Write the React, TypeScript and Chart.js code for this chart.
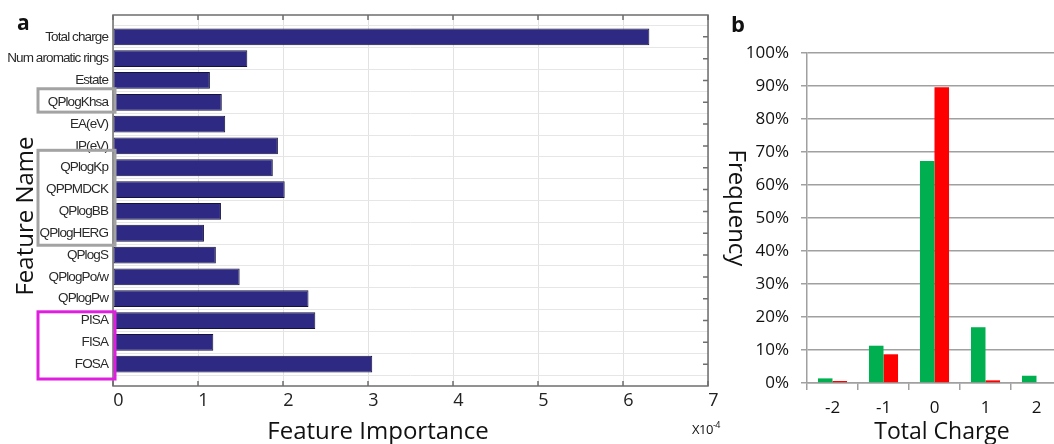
import React, { useEffect, useRef } from "react";
import { Chart, registerables } from "chart.js";

Chart.register(...registerables);

// ---------- data ----------
const FEATURES = [
  "Total charge",
  "Num aromatic rings",
  "Estate",
  "QPlogKhsa",
  "EA(eV)",
  "IP(eV)",
  "QPlogKp",
  "QPPMDCK",
  "QPlogBB",
  "QPlogHERG",
  "QPlogS",
  "QPlogPo/w",
  "QPlogPw",
  "PISA",
  "FISA",
  "FOSA",
];
const IMPORTANCE = [6.31, 1.58, 1.14, 1.28, 1.32, 1.94, 1.88, 2.02, 1.27, 1.07, 1.21, 1.49, 2.3, 2.38, 1.18, 3.05];
const IMPORTANCE_MAX = 7;

const CHARGES = ["-2", "-1", "0", "1", "2"];
const GREEN_FREQ = [1.4, 11.3, 67.3, 16.9, 2.2];
const RED_FREQ = [0.6, 8.7, 89.6, 0.8, 0];

const HIGHLIGHTS = [
  { from: "QPlogKhsa", to: "QPlogKhsa", color: "#a3a3a3", up: 0.62, down: 0.45 },
  { from: "QPlogKp", to: "QPlogHERG", color: "#a3a3a3", up: 0.8, down: 0.55 },
  { from: "PISA", to: "FOSA", color: "#e01ee0", up: 0.4, down: 0.68 },
];

const SANS = '"Open Sans", "Liberation Sans", sans-serif';
const ARIAL = '"Liberation Sans", Arial, sans-serif';

function Text(props: {
  x: number;
  base: number;
  size: number;
  bold?: boolean;
  center?: boolean;
  children: any;
}) {
  const { x, base, size, bold, center, children } = props;
  return (
    <div
      style={{
        position: "absolute",
        left: x,
        top: base - 0.888 * size,
        fontFamily: SANS,
        fontSize: size,
        lineHeight: `${size}px`,
        fontWeight: bold ? 700 : 400,
        whiteSpace: "nowrap",
        color: "#111",
        transform: center ? "translateX(-50%)" : undefined,
      }}
    >
      {children}
    </div>
  );
}

function Rotated(props: { cx: number; cy: number; size: number; deg: number; children: any }) {
  const { cx, cy, size, deg, children } = props;
  return (
    <div
      style={{
        position: "absolute",
        left: cx,
        top: cy,
        fontFamily: SANS,
        fontSize: size,
        lineHeight: `${size}px`,
        whiteSpace: "nowrap",
        color: "#111",
        transform: `translate(-50%, -50%) rotate(${deg}deg)`,
      }}
    >
      {children}
    </div>
  );
}

export default function App() {
  const leftRef = useRef<HTMLCanvasElement | null>(null);
  const rightRef = useRef<HTMLCanvasElement | null>(null);

  useEffect(() => {
    const yLabels = ["", ...FEATURES, ""];
    const xValues = ["", ...IMPORTANCE, ""].map((v) => (v === "" ? null : v));

    const framePlugin = {
      id: "frame",
      beforeDraw(chart: any) {
        // narrow look for the feature labels (like Arial Narrow)
        (chart.ctx as any).letterSpacing = "-0.9px";
      },
      beforeDatasetsDraw(chart: any) {
        (chart.ctx as any).letterSpacing = "0px";
      },
      afterDraw(chart: any) {
        const { ctx, chartArea, scales } = chart;
        const { left, right, top, bottom } = chartArea;
        const x = scales.x;
        const y = scales.y;
        ctx.save();
        ctx.strokeStyle = "#6e6e6e";
        ctx.lineWidth = 1.5;
        ctx.strokeRect(left, top, right - left, bottom - top);
        ctx.beginPath();
        for (let v = 0; v <= IMPORTANCE_MAX; v++) {
          const px = x.getPixelForValue(v);
          ctx.moveTo(px, top);
          ctx.lineTo(px, top + 5);
          ctx.moveTo(px, bottom);
          ctx.lineTo(px, bottom - 5);
        }
        for (let i = 1; i <= FEATURES.length; i++) {
          const py = y.getPixelForValue(i);
          ctx.moveTo(right, py);
          ctx.lineTo(right - 5, py);
        }
        ctx.stroke();

        const sp = y.getPixelForValue(1) - y.getPixelForValue(0);
        ctx.lineWidth = 3;
        HIGHLIGHTS.forEach((h) => {
          const i1 = yLabels.indexOf(h.from);
          const i2 = yLabels.indexOf(h.to);
          const t = y.getPixelForValue(i1) - sp * h.up;
          const b = y.getPixelForValue(i2) + sp * h.down;
          ctx.strokeStyle = h.color;
          ctx.strokeRect(left - 75, t, 77, b - t);
        });
        ctx.restore();
      },
    };

    const left = new Chart(leftRef.current as HTMLCanvasElement, {
      type: "bar",
      data: {
        labels: yLabels,
        datasets: [
          {
            data: xValues as any,
            backgroundColor: "#2e2a84",
            borderColor: "#15123c",
            borderWidth: 1,
            borderSkipped: false,
            barPercentage: 0.77,
            categoryPercentage: 1,
          },
        ],
      },
      options: {
        indexAxis: "y",
        responsive: false,
        animation: false,
        devicePixelRatio: 1,
        layout: { padding: { top: 15, right: 12, left: 0, bottom: 0 } },
        plugins: { legend: { display: false }, tooltip: { enabled: false } },
        scales: {
          x: {
            type: "linear",
            min: 0,
            max: IMPORTANCE_MAX,
            ticks: {
              stepSize: 1,
              padding: 4,
              labelOffset: 5,
              color: "#222",
              font: { family: SANS, size: 18 },
            },
            grid: { color: "#e2e2e2", lineWidth: 1, drawTicks: false },
            border: { display: false },
            afterFit: (s: any) => {
              s.height = 58;
            },
          },
          y: {
            type: "category",
            offset: false,
            ticks: {
              autoSkip: false,
              padding: 5,
              color: "#2a2a2a",
              font: { family: ARIAL, size: 13.5 },
            },
            grid: { color: "#e6e6e6", lineWidth: 1, drawTicks: false },
            border: { display: false },
            afterFit: (s: any) => {
              s.width = 113;
            },
          },
        },
      },
      plugins: [framePlugin],
    });

    const right = new Chart(rightRef.current as HTMLCanvasElement, {
      type: "bar",
      data: {
        labels: CHARGES,
        datasets: [
          {
            data: GREEN_FREQ,
            backgroundColor: "#00b050",
            borderWidth: 0,
            barPercentage: 1,
            categoryPercentage: 0.57,
          },
          {
            data: RED_FREQ,
            backgroundColor: "#ff0000",
            borderWidth: 0,
            barPercentage: 1,
            categoryPercentage: 0.57,
          },
        ],
      },
      options: {
        responsive: false,
        animation: false,
        devicePixelRatio: 1,
        layout: { padding: { top: 53, right: 3, left: 0, bottom: 0 } },
        plugins: { legend: { display: false }, tooltip: { enabled: false } },
        scales: {
          x: {
            ticks: { padding: 8, color: "#111", font: { family: SANS, size: 17 } },
            grid: { drawOnChartArea: false, drawTicks: true, tickLength: 7, color: "#a0a0a0", lineWidth: 1.5 },
            border: { color: "#a0a0a0", width: 1.5 },
            afterFit: (s: any) => {
              s.height = 61;
            },
          },
          y: {
            min: 0,
            max: 100,
            ticks: {
              stepSize: 10,
              padding: 12,
              color: "#111",
              font: { family: SANS, size: 17 },
              callback: (v: any) => `${v}%`,
            },
            grid: { color: "#a0a0a0", lineWidth: 1.5, tickLength: 6 },
            border: { color: "#a0a0a0", width: 1.5 },
            afterFit: (s: any) => {
              s.width = 87;
            },
          },
        },
      },
    });

    return () => {
      left.destroy();
      right.destroy();
    };
  }, []);

  return (
    <div
      style={{
        position: "fixed",
        left: 0,
        top: 0,
        width: 1054,
        height: 444,
        overflow: "hidden",
        background: "#fff",
      }}
    >
      <canvas
        ref={leftRef}
        width={720}
        height={444}
        style={{ position: "absolute", left: 0, top: 0, width: 720, height: 444 }}
      />
      <canvas
        ref={rightRef}
        width={345}
        height={444}
        style={{ position: "absolute", left: 720, top: 0, width: 345, height: 444 }}
      />
      <Text x={17} base={31} size={21} bold>
        a
      </Text>
      <Text x={731} base={32} size={22} bold>
        b
      </Text>
      <Rotated cx={24} cy={216} size={24} deg={-90}>
        Feature Name
      </Rotated>
      <Text x={378} base={439} size={24} center>
        Feature Importance
      </Text>
      <div
        style={{
          position: "absolute",
          left: 692,
          top: 435 - 0.888 * 13,
          fontFamily: SANS,
          fontSize: 13,
          lineHeight: "13px",
          letterSpacing: -0.5,
          color: "#111",
          whiteSpace: "nowrap",
        }}
      >
        X10
        <span style={{ fontSize: 9, position: "relative", top: -6 }}>-4</span>
      </div>
      <Rotated cx={738} cy={208} size={24} deg={90}>
        Frequency
      </Rotated>
      <Text x={942} base={439} size={23} center>
        Total Charge
      </Text>
    </div>
  );
}
